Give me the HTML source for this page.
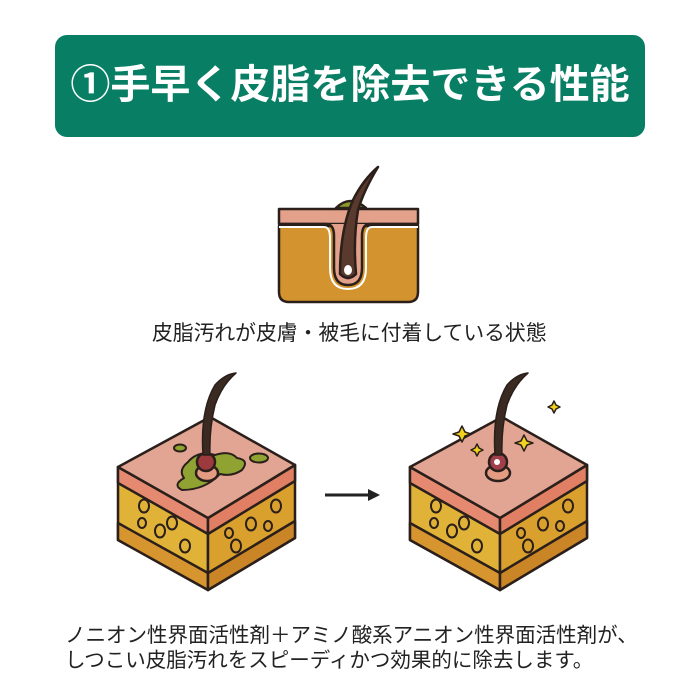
<!DOCTYPE html>
<html><head><meta charset="utf-8"><style>
body{margin:0;width:700px;height:700px;background:#fff;position:relative;overflow:hidden;font-family:"Liberation Sans","Noto Sans CJK JP",sans-serif;}
.banner{position:absolute;left:55px;top:35px;width:590px;height:102px;background:#087e64;border-radius:12px;}
.title{position:absolute;left:55px;top:35px;width:590px;height:102px;line-height:100px;text-align:center;color:#fff;font-weight:bold;font-size:40px;letter-spacing:0px;white-space:nowrap;}
.t{position:absolute;color:#222;white-space:nowrap;font-size:20.5px;}
</style></head><body>
<div class="banner"></div>
<div class="title">①手早く皮脂を除去できる性能</div>
<svg width="700" height="700" style="position:absolute;left:0;top:0" stroke-linejoin="round">
<g stroke="#2a1f1a" stroke-width="2.5">
<path d="M279 226 L418 226 L418 292 Q418 302 408 302 L289 302 Q279 302 279 292 Z" fill="#d3932f"/>
<rect x="279" y="209" width="139" height="15" fill="#e3a08a"/>
<path d="M336 208 Q350 194 366 208 Z" fill="#8a9a2a"/>
<path d="M279 224 L326 224 Q334 224 334 236 L334 268 Q334 285 348 285 Q362 285 362 268 L362 236 Q362 224 370 224 L418 224" fill="#e3a08a"/>
<path d="M279 227 L324 227 Q330 227 330 238 L330 268 Q330 289 348 289 Q366 289 366 268 L366 238 Q366 227 372 227 L418 227" fill="none" stroke="#fff" stroke-width="2"/>
<path d="M340 274 Q340 230 353 200 Q363 180 378 167 Q364 190 358 210 Q353 240 356 274 Q348 282 340 274Z" fill="#5a3a2c"/>
<ellipse cx="348" cy="270" rx="4" ry="5" fill="#fff" stroke="none"/>
</g>
<g id="c1" stroke="#2a1f1a" stroke-width="2.5">
<path d="M118 467 L208 518 L208 590 L118 540 Z" fill="#e0b238"/>
<path d="M208 518 L295 465 L295 538 L208 590 Z" fill="#d9a02e"/>
<path d="M118 523 L208 573 L208 590 L118 540 Z" fill="#d6952e"/>
<path d="M208 573 L295 521 L295 538 L208 590 Z" fill="#c98526"/>
<path d="M118 467 L208 518 L208 534 L118 483 Z" fill="#e58a70"/>
<path d="M208 518 L295 465 L295 481 L208 534 Z" fill="#e07f63"/>
<path d="M210 417 L118 467 L208 518 L295 465 Z" fill="#e3a593"/>
<g fill="none" stroke-width="2">
<ellipse cx="144" cy="506" rx="5" ry="6.5"/><ellipse cx="142" cy="523" rx="4" ry="5"/><ellipse cx="160" cy="531" rx="5" ry="6.5"/><ellipse cx="172" cy="523" rx="5" ry="6.5"/><ellipse cx="185" cy="546" rx="5" ry="6.5"/>
<ellipse cx="276" cy="506" rx="5" ry="6.5"/><ellipse cx="251" cy="524" rx="5" ry="6.5"/><ellipse cx="268" cy="526" rx="4" ry="5"/><ellipse cx="229" cy="533" rx="4" ry="5"/><ellipse cx="236" cy="546" rx="5" ry="6.5"/>
</g>
</g>
<g stroke="#2a1f1a" stroke-width="2.5">
<path d="M188 462 Q198 450 215 455 Q230 450 237 458 Q250 460 242 470 Q232 477 220 474 Q205 490 182 490 Q172 485 184 478 Q178 470 188 462Z" fill="#8fa232" stroke-width="2"/>
<ellipse cx="180" cy="448" rx="6" ry="3.5" fill="#8fa232" stroke-width="2"/>
<ellipse cx="259" cy="458" rx="9" ry="4.5" fill="#8fa232" stroke-width="2"/>
<ellipse cx="207" cy="473" rx="11" ry="8" fill="#e39c82"/>
<circle cx="206" cy="462" r="9" fill="#9c3a3e"/>
<path d="M203 455 Q200 410 215 385 Q225 374 236 373 Q222 385 215 405 Q209 430 210 455Z" fill="#3a2a22" stroke-width="1.5"/>
</g>
<use href="#c1" x="292" y="0"/>
<g stroke="#2a1f1a" stroke-width="2.5">
<ellipse cx="498" cy="473" rx="12" ry="8" fill="#e39c82"/>
<circle cx="498" cy="462" r="9" fill="#a0404a"/>
<circle cx="497" cy="462" r="3" fill="#fff" stroke="none"/>
<path d="M495 455 Q492 410 507 385 Q517 374 528 373 Q514 385 507 405 Q501 430 502 455Z" fill="#3a2a22" stroke-width="1.5"/>
<g fill="#f1d21c" stroke-width="1.5">
<path d="M462 426 L465 432 L471 434 L465 436 L462 442 L459 436 L453 434 L459 432Z"/>
<path d="M477 444 L479 448 L483 450 L479 452 L477 456 L475 452 L471 450 L475 448Z"/>
<path d="M524 435 L527 441 L533 443 L527 445 L524 451 L521 445 L515 443 L521 441Z"/>
<path d="M554 401 L556 405 L560 407 L556 409 L554 413 L552 409 L548 407 L552 405Z"/>
</g>
</g>
<path d="M325 495 L372 495" stroke="#222" stroke-width="3"/>
<path d="M368 489 L380 495 L368 501 Z" fill="#222"/>
</svg>
<div class="t" style="left:152px;top:316px;font-size:20.8px">皮脂汚れが皮膚・被毛に付着している状態</div>
<div class="t" style="left:65px;top:618px">ノニオン性界面活性剤＋アミノ酸系アニオン性界面活性剤が、</div>
<div class="t" style="left:65px;top:643px">しつこい皮脂汚れをスピーディかつ効果的に除去します。</div>
</body></html>
